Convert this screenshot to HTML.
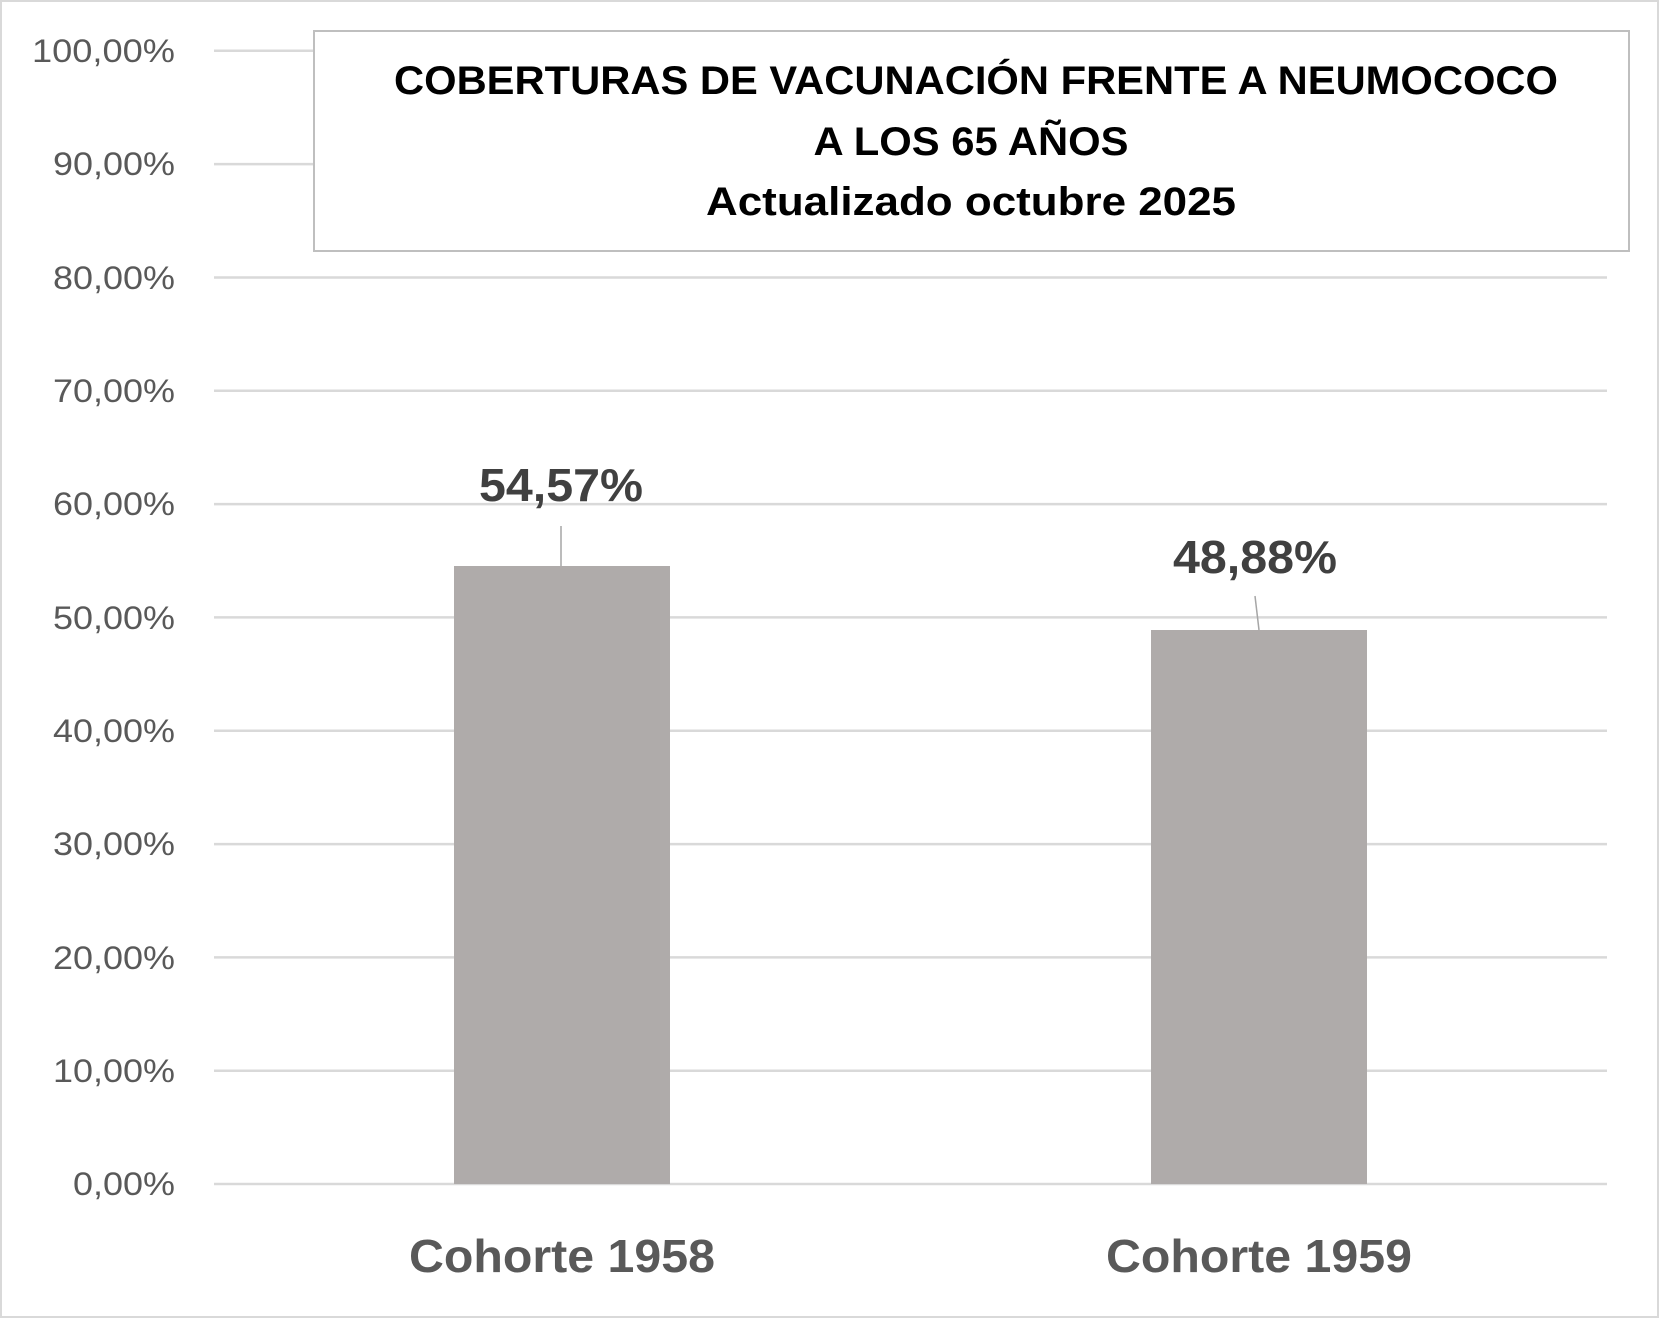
<!DOCTYPE html>
<html><head><meta charset="utf-8"><style>body{margin:0;background:#fff}</style></head><body>
<svg width="1659" height="1318" viewBox="0 0 1659 1318" xmlns="http://www.w3.org/2000/svg" font-family="Liberation Sans, sans-serif">
<rect x="1" y="1" width="1657" height="1316" fill="#fff" stroke="#d9d9d9" stroke-width="2"/>
<g stroke="#d9d9d9" stroke-width="2.5">
<line x1="214" x2="1607" y1="50.8" y2="50.8"/>
<line x1="214" x2="1607" y1="164.1" y2="164.1"/>
<line x1="214" x2="1607" y1="277.5" y2="277.5"/>
<line x1="214" x2="1607" y1="390.8" y2="390.8"/>
<line x1="214" x2="1607" y1="504.1" y2="504.1"/>
<line x1="214" x2="1607" y1="617.4" y2="617.4"/>
<line x1="214" x2="1607" y1="730.7" y2="730.7"/>
<line x1="214" x2="1607" y1="844.1" y2="844.1"/>
<line x1="214" x2="1607" y1="957.4" y2="957.4"/>
<line x1="214" x2="1607" y1="1070.7" y2="1070.7"/>
<line x1="214" x2="1607" y1="1184" y2="1184"/>
</g>
<g font-size="32" fill="#595959" text-anchor="end" lengthAdjust="spacingAndGlyphs">
<text x="175" y="62" textLength="143" lengthAdjust="spacingAndGlyphs">100,00%</text>
<text x="175" y="175" textLength="122" lengthAdjust="spacingAndGlyphs">90,00%</text>
<text x="175" y="289" textLength="122" lengthAdjust="spacingAndGlyphs">80,00%</text>
<text x="175" y="402" textLength="122" lengthAdjust="spacingAndGlyphs">70,00%</text>
<text x="175" y="515" textLength="122" lengthAdjust="spacingAndGlyphs">60,00%</text>
<text x="175" y="629" textLength="122" lengthAdjust="spacingAndGlyphs">50,00%</text>
<text x="175" y="742" textLength="122" lengthAdjust="spacingAndGlyphs">40,00%</text>
<text x="175" y="855" textLength="122" lengthAdjust="spacingAndGlyphs">30,00%</text>
<text x="175" y="969" textLength="122" lengthAdjust="spacingAndGlyphs">20,00%</text>
<text x="175" y="1082" textLength="122" lengthAdjust="spacingAndGlyphs">10,00%</text>
<text x="175" y="1195" textLength="102" lengthAdjust="spacingAndGlyphs">0,00%</text>
</g>
<rect x="454" y="566" width="216" height="618" fill="#afabaa"/>
<rect x="1151" y="630" width="216" height="554" fill="#afabaa"/>
<line x1="561" y1="526" x2="561" y2="566" stroke="#a6a6a6" stroke-width="1.5"/>
<line x1="1255" y1="596" x2="1259" y2="630" stroke="#a6a6a6" stroke-width="1.5"/>
<g font-size="46" font-weight="bold" fill="#404040" text-anchor="middle">
<text x="561" y="501" textLength="164" lengthAdjust="spacingAndGlyphs">54,57%</text>
<text x="1255" y="573" textLength="164" lengthAdjust="spacingAndGlyphs">48,88%</text>
</g>
<g font-size="46" font-weight="bold" fill="#595959" text-anchor="middle">
<text x="562" y="1272" textLength="306" lengthAdjust="spacingAndGlyphs">Cohorte 1958</text>
<text x="1259" y="1272" textLength="306" lengthAdjust="spacingAndGlyphs">Cohorte 1959</text>
</g>
<rect x="314" y="31" width="1315" height="220" fill="#fff" stroke="#bfbfbf" stroke-width="2"/>
<g font-size="40" font-weight="bold" fill="#000" text-anchor="middle">
<text x="976" y="94" textLength="1164" lengthAdjust="spacingAndGlyphs">COBERTURAS DE VACUNACIÓN FRENTE A NEUMOCOCO</text>
<text x="971" y="155" textLength="315" lengthAdjust="spacingAndGlyphs">A LOS 65 AÑOS</text>
<text x="971" y="215" textLength="530" lengthAdjust="spacingAndGlyphs">Actualizado octubre 2025</text>
</g>
</svg>
</body></html>
